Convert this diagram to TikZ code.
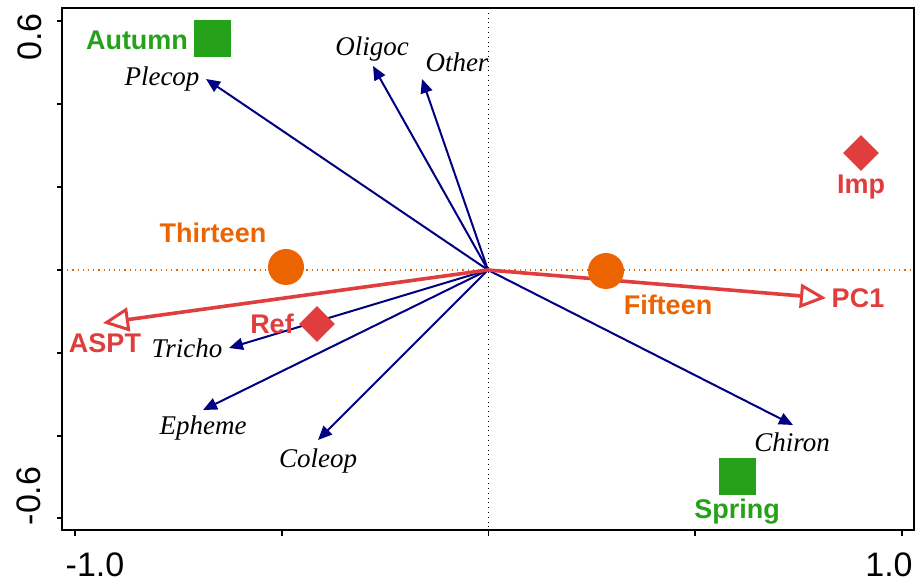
\documentclass[tikz,border=0pt]{standalone}
\usepackage{fontspec}
\setmainfont{Liberation Serif}
\setsansfont{Liberation Sans}
\usetikzlibrary{arrows.meta,shapes.geometric}
\definecolor{cgreen}{RGB}{38,162,26}
\definecolor{corange}{RGB}{236,100,0}
\definecolor{cred}{RGB}{224,62,62}
\definecolor{cnavy}{RGB}{0,0,128}
\tikzset{
  frame/.style={line width=1pt,black},
  tickmark/.style={line width=0.8pt,black},
  ticklab/.style={font=\sffamily\fontsize{17}{17}\selectfont,inner sep=0pt},
  species/.style={font=\itshape\fontsize{13.5}{13.5}\selectfont,inner sep=0pt},
  sp/.style={draw=cnavy,line width=1pt,-{Triangle[length=7pt,width=6pt]}},
  envarrow/.style={draw=cred,line width=1.8pt,-{Triangle[open,length=13pt,width=12pt,line width=1.5pt]}},
  boldlab/.style={font=\sffamily\bfseries\fontsize{13.5}{13.5}\selectfont,inner sep=0pt},
  sq/.style={rectangle,fill=cgreen,minimum size=18.5pt,inner sep=0pt},
  dot/.style={circle,fill=corange,minimum size=18pt,inner sep=0pt},
  dia/.style={diamond,fill=cred,minimum width=18pt,minimum height=18pt,inner sep=0pt,aspect=1},
}
\begin{document}
\begin{tikzpicture}[x=0.5pt,y=-0.5pt]
\useasboundingbox (0,0) rectangle (916,582);
% reference lines
\draw[black,dotted,line width=0.4pt] (488,8) -- (488,530);
\draw[corange,dotted,line width=0.6pt] (62,270) -- (914,270);
% frame
\draw[frame] (62,8) rectangle (914,530);
% ticks
\foreach \y in {21,104,187,270,353,436,518} \draw[tickmark] (57,\y) -- (62,\y);
\foreach \x in {75,281.75,488.5,695.25,902} \draw[tickmark] (\x,530) -- (\x,536);
\node[ticklab,rotate=90] (yt) at (30,37) {0.6};
\node[ticklab,rotate=90] (yb) at (29,496) {-0.6};
\node[ticklab] (xl) at (95,565) {-1.0};
\node[ticklab] (xr) at (889,565) {1.0};
% origin
\coordinate (o) at (488,270);
% species tips
\coordinate (tPlecop) at (206,79);
\coordinate (tOligoc) at (373,66);
\coordinate (tOther) at (422,79);
\coordinate (tTricho) at (229,348);
\coordinate (tEpheme) at (203,410);
\coordinate (tColeop) at (318,440);
\coordinate (tChiron) at (793,425);
\foreach \t in {tPlecop,tOligoc,tOther,tTricho,tEpheme,tColeop,tChiron} \draw[sp] (o) -- (\t);
% env arrows
\coordinate (tASPT) at (103,323);
\coordinate (tPC1) at (826,298);
\draw[envarrow] (o) -- (tASPT);
\draw[envarrow] (o) -- (tPC1);
% species labels
\node[species] (lPlecop) at (162,79) {Plecop};
\node[species] (lOligoc) at (372,49) {Oligoc};
\node[species] (lOther) at (457,62) {Other};
\node[species] (lTricho) at (187,348) {Tricho};
\node[species] (lEpheme) at (203,428) {Epheme};
\node[species] (lColeop) at (318,461) {Coleop};
\node[species] (lChiron) at (792,442) {Chiron};
% symbols
\node[sq] (autumn) at (212,39) {};
\node[sq] (spring) at (737,477) {};
\node[dot] (thirteen) at (286,267) {};
\node[dot] (fifteen) at (606,271) {};
\node[dia] (ref) at (317,324) {};
\node[dia] (imp) at (861,153) {};
% bold labels
\node[boldlab,text=cgreen] (lAutumn) at (137,40) {Autumn};
\node[boldlab,text=cgreen] (lSpring) at (737,512) {Spring};
\node[boldlab,text=corange] (lThirteen) at (213,233) {Thirteen};
\node[boldlab,text=corange] (lFifteen) at (668,305) {Fifteen};
\node[boldlab,text=cred] (lRef) at (272,324) {Ref};
\node[boldlab,text=cred] (lImp) at (861,187) {Imp};
\node[boldlab,text=cred] (lASPT) at (105,343) {ASPT};
\node[boldlab,text=cred] (lPC1) at (858,298) {PC1};
\end{tikzpicture}
\end{document}
